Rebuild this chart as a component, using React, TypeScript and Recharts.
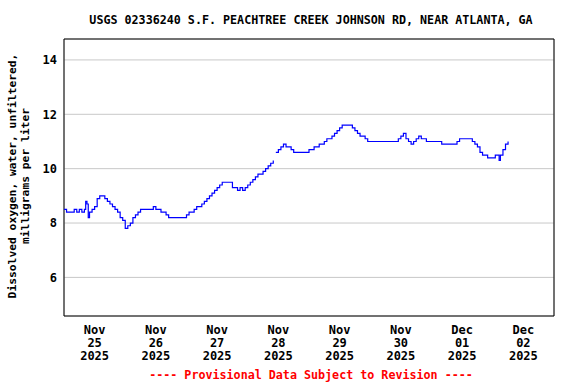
import React from 'react';
import { LineChart, Line, XAxis, YAxis, CartesianGrid, ReferenceArea } from 'recharts';

const title = 'USGS 02336240 S.F. PEACHTREE CREEK JOHNSON RD, NEAR ATLANTA, GA';
const yLabel1 = 'Dissolved oxygen, water, unfiltered,';
const yLabel2 = 'milligrams per liter';
const footer = '---- Provisional Data Subject to Revision ----';

// hours since Nov 25 2025 00:00
const hours = [
  0, 1, 2, 3, 4, 5, 6, 7, 8, 8.5, 9, 9.5, 10, 11, 12, 13, 14, 15, 16, 17, 18, 19, 20, 21, 22, 23,
  24, 25, 26, 27, 28, 29, 30, 31, 32, 33, 34, 35, 36, 37, 38, 39, 40, 41, 42, 43, 44, 45, 46, 47,
  48, 49, 50, 51, 52, 53, 54, 55, 56, 57, 58, 59, 60, 61, 62, 63, 64, 65, 66, 67, 68, 69, 70, 71,
  72, 73, 74, 75, 76, 77, 78, 79, 80, 81, 82, 82.5, 83, 84, 85, 86, 87, 88, 89, 90, 91, 92, 93, 94, 95,
  96, 97, 98, 99, 100, 101, 102, 103, 104, 105, 106, 107, 108, 109, 110, 111, 112, 113, 114, 115, 116, 117, 118, 119,
  120, 121, 122, 123, 124, 125, 126, 127, 128, 129, 130, 131, 132, 133, 134, 135, 136, 137, 138, 139, 140, 141, 142, 143,
  144, 145, 146, 147, 148, 149, 150, 151, 152, 153, 154, 155, 156, 157, 158, 159, 160, 161, 162, 163, 164, 165, 166, 167,
  168, 169, 170, 170.5, 171, 172, 173, 174,
];

const oxygen = [
  8.5, 8.4, 8.4, 8.4, 8.5, 8.4, 8.5, 8.4, 8.5, 8.8, 8.7, 8.2, 8.4, 8.5, 8.6, 8.9, 9.0, 9.0, 8.9, 8.8, 8.7, 8.6, 8.5, 8.4, 8.2, 8.1,
  7.8, 7.9, 8.0, 8.2, 8.3, 8.4, 8.5, 8.5, 8.5, 8.5, 8.5, 8.6, 8.5, 8.5, 8.4, 8.4, 8.3, 8.2, 8.2, 8.2, 8.2, 8.2, 8.2, 8.2,
  8.3, 8.4, 8.4, 8.5, 8.6, 8.6, 8.7, 8.8, 8.9, 9.0, 9.1, 9.2, 9.3, 9.4, 9.5, 9.5, 9.5, 9.5, 9.3, 9.3, 9.2, 9.3, 9.2, 9.3,
  9.4, 9.5, 9.6, 9.7, 9.8, 9.8, 9.9, 10.0, 10.1, 10.2, 10.3, null, 10.6, 10.7, 10.8, 10.9, 10.8, 10.8, 10.7, 10.6, 10.6, 10.6, 10.6, 10.6, 10.6,
  10.7, 10.7, 10.8, 10.8, 10.9, 10.9, 11.0, 11.1, 11.1, 11.2, 11.3, 11.4, 11.5, 11.6, 11.6, 11.6, 11.6, 11.5, 11.4, 11.3, 11.2, 11.2, 11.1, 11.0,
  11.0, 11.0, 11.0, 11.0, 11.0, 11.0, 11.0, 11.0, 11.0, 11.0, 11.0, 11.1, 11.2, 11.3, 11.1, 11.0, 10.9, 11.0, 11.1, 11.2, 11.1, 11.1, 11.0, 11.0,
  11.0, 11.0, 11.0, 11.0, 10.9, 10.9, 10.9, 10.9, 10.9, 10.9, 11.0, 11.1, 11.1, 11.1, 11.1, 11.1, 11.0, 10.9, 10.8, 10.6, 10.5, 10.5, 10.4, 10.4,
  10.4, 10.5, 10.5, 10.3, 10.5, 10.7, 10.9, 11.0,
];

const dayTicks = [12, 36, 60, 84, 108, 132, 156, 180];
const dayLabels = [
  ['Nov', '25', '2025'],
  ['Nov', '26', '2025'],
  ['Nov', '27', '2025'],
  ['Nov', '28', '2025'],
  ['Nov', '29', '2025'],
  ['Nov', '30', '2025'],
  ['Dec', '01', '2025'],
  ['Dec', '02', '2025'],
];
const midnights = [24, 48, 72, 96, 120, 144, 168];
const yTicks = [6, 8, 10, 12, 14];
const yDomain = [4.58, 14.77];

const data = hours.map((h, i) => ({ h, v: oxygen[i] }));

const font = '"DejaVu Sans Mono", monospace';

function DayTick({ x, y, payload }: any) {
  const lines = dayLabels[dayTicks.indexOf(payload.value)] || [];
  return (
    <text x={x} y={y} textAnchor="middle" fontFamily={font} fontSize={12} fontWeight="bold" fill="#000">
      {lines.map((s, k) => (
        <tspan key={k} x={x} y={y + 18 + k * 13}>{s}</tspan>
      ))}
    </text>
  );
}

export default function App() {
  return (
    <div style={{ position: 'absolute', left: 0, top: 0, width: 576, height: 384, background: '#fff' }}>
      <LineChart width={576} height={384} data={data} margin={{ top: 39, right: 22, bottom: 0, left: 0 }}>
        <CartesianGrid xAxisId="grid" stroke="#c8c8c8" />
        <XAxis xAxisId="grid" dataKey="h" type="number" domain={[0, 192]} ticks={midnights}
          height={0} tick={false} axisLine={false} tickLine={false} />
        <XAxis dataKey="h" type="number" domain={[0, 192]} ticks={dayTicks} interval={0}
          height={68} tick={<DayTick />} tickLine={false} axisLine={false} tickSize={0} tickMargin={0} />
        <YAxis type="number" domain={yDomain} ticks={yTicks} interval={0} allowDataOverflow
          width={64} tickLine={false} axisLine={false} tickSize={0} tickMargin={7}
          tick={{ fontFamily: font, fontSize: 12, fontWeight: 'bold', fill: '#000' }} />
        <ReferenceArea x1={0} x2={192} y1={yDomain[0]} y2={yDomain[1]} fill="none" stroke="#000" strokeWidth={1} />
        <Line dataKey="v" type="stepAfter" stroke="#0000ff" strokeWidth={1.2} dot={false}
          isAnimationActive={false} connectNulls={false} />
      </LineChart>
      <svg width={576} height={384} style={{ position: 'absolute', left: 0, top: 0, pointerEvents: 'none' }}>
        <text x={311} y={24} textAnchor="middle" fontFamily={font} fontSize={11.7} fontWeight="bold" fill="#000">{title}</text>
        <text transform="translate(16,176) rotate(-90)" textAnchor="middle" fontFamily={font} fontSize={11.3} fontWeight="bold" fill="#000">{yLabel1}</text>
        <text transform="translate(29,176) rotate(-90)" textAnchor="middle" fontFamily={font} fontSize={11.3} fontWeight="bold" fill="#000">{yLabel2}</text>
        <text x={311} y={379} textAnchor="middle" fontFamily={font} fontSize={11.7} fontWeight="bold" fill="#ff0000">{footer}</text>
      </svg>
    </div>
  );
}
